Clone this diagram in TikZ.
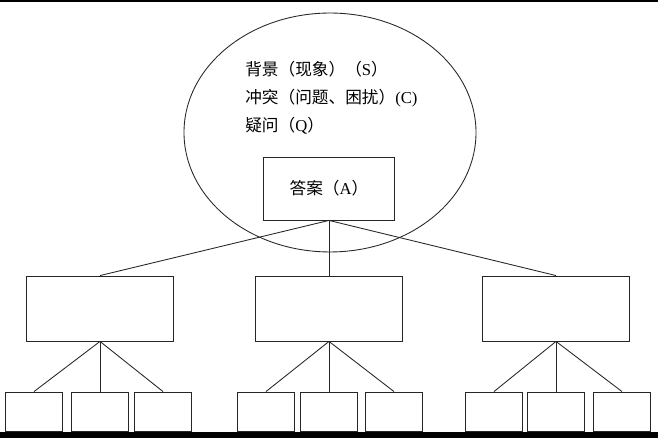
\documentclass[tikz,border=0pt]{standalone}
\usepackage{fontspec}
\setmainfont{Liberation Serif}
\newfontfamily\cjk{Noto Sans CJK SC}
\usepackage{tikz}

\begin{document}
\begin{tikzpicture}[x=0.75pt,y=-0.75pt,
  box/.style={rectangle,draw=black!85,line width=0.65pt,inner sep=0pt},
  midbox/.style={box,minimum width=110.25pt,minimum height=48.75pt},
  leafbox/.style={box,minimum width=42.75pt,minimum height=29.25pt},
  txt/.style={anchor=west,inner sep=0pt,font=\cjk\fontsize{12.5}{15}\selectfont},
  link/.style={draw=black!85,line width=0.65pt}]
  \useasboundingbox (0,0) rectangle (658,438);
  \fill[black] (0,0) rectangle (658,2.5);
  \fill[black] (0,432) rectangle (658,438);
  % question circle
  \draw[link] (330,132.5) ellipse [x radius=109.5pt,y radius=89.6pt];
  \node[txt] (S) at (245,69) {背景（现象）（{\rmfamily S}）};
  \node[txt] (C) at (245,98) {冲突（问题、困扰）{\rmfamily (C)}};
  \node[txt] (Q) at (245,126) {疑问（{\rmfamily Q}）};
  \node[box,minimum width=98.25pt,minimum height=47.25pt,font=\cjk\fontsize{12.5}{15}\selectfont] (A) at (329,188.5) {答案（{\rmfamily A}）};
  % second level
  \node[midbox] (L) at (100,308.5) {};
  \node[midbox] (M) at (329,308.5) {};
  \node[midbox] (R) at (556,308.5) {};
  \draw[link] (A.south) -- (L.north);
  \draw[link] (A.south) -- (M.north);
  \draw[link] (A.south) -- (R.north);
  % third level
  \node[leafbox] (L1) at (34,411.5) {};
  \node[leafbox] (L2) at (100,411.5) {};
  \node[leafbox] (L3) at (163,411.5) {};
  \node[leafbox] (M1) at (266,411.5) {};
  \node[leafbox] (M2) at (329,411.5) {};
  \node[leafbox] (M3) at (394,411.5) {};
  \node[leafbox] (R1) at (494,411.5) {};
  \node[leafbox] (R2) at (556,411.5) {};
  \node[leafbox] (R3) at (622,411.5) {};
  \draw[link] (L.south) -- (L1.north);
  \draw[link] (L.south) -- (L2.north);
  \draw[link] (L.south) -- (L3.north);
  \draw[link] (M.south) -- (M1.north);
  \draw[link] (M.south) -- (M2.north);
  \draw[link] (M.south) -- (M3.north);
  \draw[link] (R.south) -- (R1.north);
  \draw[link] (R.south) -- (R2.north);
  \draw[link] (R.south) -- (R3.north);
\end{tikzpicture}
\end{document}
